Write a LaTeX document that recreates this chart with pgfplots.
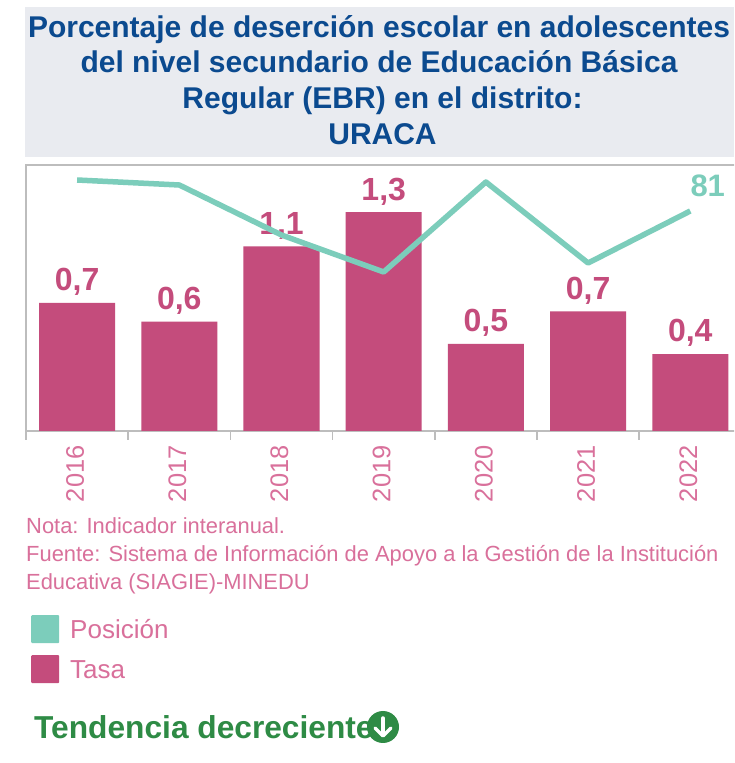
\documentclass[border=0pt]{standalone}
\usepackage{pgfplots}
\usepackage{pgfplotstable}
\usepackage{fontspec}
\setmainfont{Liberation Sans}
\pgfplotsset{compat=1.18}
\definecolor{barc}{HTML}{C44C7C}
\definecolor{linec}{HTML}{7CCDBB}
\definecolor{titlec}{HTML}{0B4A8F}
\definecolor{boxc}{HTML}{E9EBF0}
\definecolor{notec}{HTML}{D9709B}
\definecolor{greenc}{HTML}{2E8B45}
\definecolor{axisc}{HTML}{BDBDBD}
\pgfplotstableread{
x y lab
0 0.75 0,7
1 0.64 0,6
2 1.08 1,1
3 1.28 1,3
4 0.51 0,5
5 0.70 0,7
6 0.45 0,4
}\tasa
\pgfplotstableread{
x y
0 50
1 55
2 105
3 142
4 52
5 133
6 81
}\posicion
\newcommand{\fs}[1]{\fontsize{#1}{#1}\selectfont}
\begin{document}
\begin{tikzpicture}[x=1pt,y=1pt]
\clip (0,0) rectangle (734,763);
\fill[white] (0,0) rectangle (734,763);
\fill[boxc] (25,606) rectangle (734,756);
\foreach \xx/\yy/\t in {379/725/{Porcentaje de deserción escolar en adolescentes},379/690/{del nivel secundario de Educación Básica},382.5/654/{Regular (EBR) en el distrito:},382.5/618/{URACA}}{
  \node[anchor=base,inner sep=0pt,text=titlec,font=\fs{30}\bfseries] at (\xx,\yy) {\t};
}
\begin{axis}[
  at={(26pt,332pt)},anchor=south west,scale only axis,
  width=715.4pt,height=266pt,
  xmin=-0.5,xmax=6.5,ymin=0,ymax=1.556,
  axis line style={axisc,line width=2pt},
  ytick=\empty,
  xtick={0,1,2,3,4,5,6},
  xticklabels={2016,2017,2018,2019,2020,2021,2022},
  minor xtick={-0.5,0.5,1.5,2.5,3.5,4.5,5.5},
  major tick length=0pt,
  minor tick length=9pt,
  tick align=outside,
  xtick pos=bottom,
  every minor tick/.style={axisc,line width=1.5pt},
  xticklabel style={rotate=90,anchor=east,text=notec,font=\fs{25.4},xshift=-11pt,yshift=2pt,/pgf/number format/assume math mode=true},
  ]
\addplot[ybar,bar width=76pt,fill=barc,draw=none,
  point meta=explicit symbolic,
  nodes near coords,
  every node near coord/.style={text=barc,font=\fs{32}\bfseries,anchor=south,inner sep=7pt}]
  table[x=x,y=y,meta=lab]{\tasa};
\end{axis}
\begin{axis}[
  at={(26pt,332pt)},anchor=south west,scale only axis,
  width=715.4pt,height=266pt,
  xmin=-0.5,xmax=6.5,ymin=35,ymax=301,y dir=reverse,
  hide x axis,hide y axis,
  legend style={at={(0.0073,-0.692)},anchor=north west,draw=none,fill=none,
    font=\fs{26},text=notec,row sep=12pt,inner sep=0pt,outer sep=0pt,
    legend cell align=left,nodes={inner sep=0pt}},
  legend image code/.code={\fill[#1,draw=none,rounded corners=1pt] (0pt,-13pt) rectangle (28pt,15pt);},
  ]
\addplot[linec,line width=5.5pt,line join=round] table[x=x,y=y]{\posicion};
\addlegendentry{\hspace{11pt}Posición}
\addlegendimage{barc,fill=barc}
\addlegendentry{\hspace{11pt}Tasa}
\node[anchor=south west,inner sep=0pt,text=linec,font=\fs{31}\bfseries] at (axis cs:6,81) {\raisebox{14pt}{81}};
\end{axis}
\foreach \yy/\t in {229/{Nota: Indicador interanual.},201/{Fuente: Sistema de Información de Apoyo a la Gestión de la Institución},173/{Educativa (SIAGIE)-MINEDU}}{
  \node[anchor=base west,inner sep=0pt,text=notec,font=\fs{21.9}] at (26,\yy) {\t};
}
\node[anchor=base west,inner sep=0pt,text=greenc,font=\fs{31.7}\bfseries] at (34,24) {Tendencia decreciente};
\fill[greenc] (383,36) circle (16);
\draw[white,line width=3.5pt,line cap=round] (383,45) -- (383,28);
\draw[white,line width=3.5pt,line cap=round,line join=round] (375,35) -- (383,27) -- (391,35);
\end{tikzpicture}
\end{document}
